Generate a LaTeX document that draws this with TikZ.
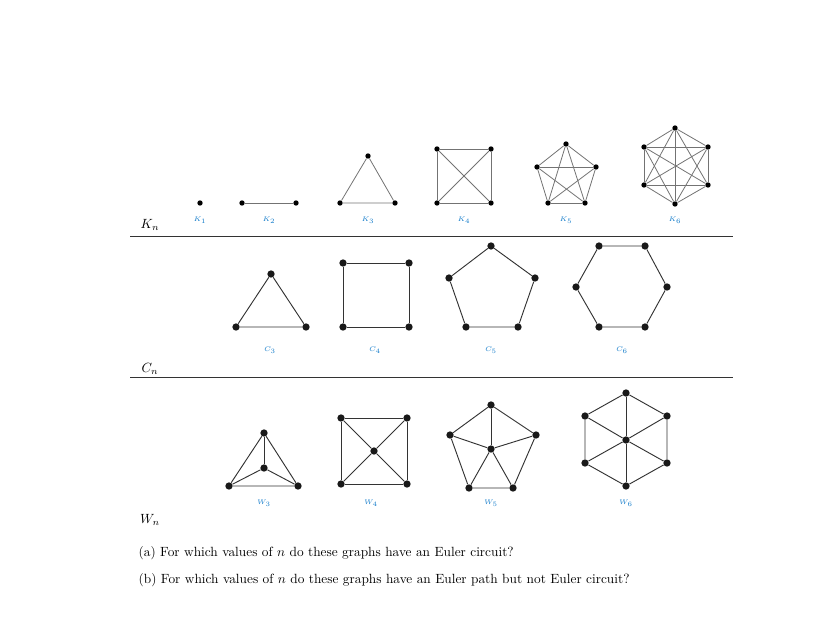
\documentclass[tikz,border=0pt]{standalone}
\begin{document}
\begin{tikzpicture}[x=0.75pt,y=-0.75pt,
  v/.style={circle,fill=black,inner sep=0pt,minimum size=4pt},
  vb/.style={circle,fill=black!90,inner sep=0pt,minimum size=5.5pt},
  kedge/.style={draw=black!55,line width=0.6pt},
  edge/.style={draw=black!80,line width=0.7pt},
  lab/.style={text=cyan!60!blue,font=\sffamily\itshape\tiny},
  rowlab/.style={font=\normalsize}]
\useasboundingbox (0,0) rectangle (827,627);
% K row
\node[v] (k1) at (200,203) {};
\node[lab] (lk1) at (200,220) {$K_1$};
\node[v] (k2a) at (242,203) {}; \node[v] (k2b) at (296,203) {};
\draw[kedge] (k2a)--(k2b);
\node[lab] (lk2) at (269,220) {$K_2$};
\node[v] (k3a) at (368,156) {}; \node[v] (k3b) at (340,203) {}; \node[v] (k3c) at (395,203) {};
\draw[kedge] (k3a)--(k3b)--(k3c)--(k3a);
\node[lab] (lk3) at (368,220) {$K_3$};
\node[v] (k4a) at (437,149) {}; \node[v] (k4b) at (491,149) {}; \node[v] (k4c) at (491,203) {}; \node[v] (k4d) at (437,203) {};
\foreach \a/\b in {k4a/k4b,k4a/k4c,k4a/k4d,k4b/k4c,k4b/k4d,k4c/k4d} \draw[kedge] (\a)--(\b);
\node[lab] (lk4) at (464,220) {$K_4$};
\node[v] (k51) at (566,144) {}; \node[v] (k52) at (596,167) {}; \node[v] (k53) at (585,203) {}; \node[v] (k54) at (548,203) {}; \node[v] (k55) at (537,167) {};
\foreach \a in {1,...,5}{\foreach \b in {1,...,5}{\ifnum\a<\b \draw[kedge] (k5\a)--(k5\b);\fi}}
\node[lab] (lk5) at (566,220) {$K_5$};
\node[v] (k61) at (675,128) {}; \node[v] (k62) at (708,147) {}; \node[v] (k63) at (708,185) {}; \node[v] (k64) at (675,204) {}; \node[v] (k65) at (644,185) {}; \node[v] (k66) at (644,147) {};
\foreach \a in {1,...,6}{\foreach \b in {1,...,6}{\ifnum\a<\b \draw[kedge] (k6\a)--(k6\b);\fi}}
\node[lab] (lk6) at (675,220) {$K_6$};
\node[rowlab] (kn) at (150,225) {$K_n$};
\coordinate (l1a) at (130,236); \coordinate (l1b) at (733,236);
\draw[black!80] (l1a)--(l1b);
% C row
\node[vb] (c31) at (271,274) {}; \node[vb] (c32) at (306,327) {}; \node[vb] (c33) at (236,327) {};
\draw[edge] (c31)--(c32)--(c33)--(c31);
\node[lab] (lc3) at (270,350) {$C_3$};
\node[vb] (c41) at (343,263) {}; \node[vb] (c42) at (409,263) {}; \node[vb] (c43) at (409,327) {}; \node[vb] (c44) at (343,327) {};
\draw[edge] (c41)--(c42)--(c43)--(c44)--(c41);
\node[lab] (lc4) at (375,350) {$C_4$};
\node[vb] (c51) at (491,246) {}; \node[vb] (c52) at (535,278) {}; \node[vb] (c53) at (518,327) {}; \node[vb] (c54) at (466,327) {}; \node[vb] (c55) at (449,278) {};
\draw[edge] (c51)--(c52)--(c53)--(c54)--(c55)--(c51);
\node[lab] (lc5) at (491,350) {$C_5$};
\node[vb] (c61) at (599,246) {}; \node[vb] (c62) at (645,246) {}; \node[vb] (c63) at (667,287) {}; \node[vb] (c64) at (645,327) {}; \node[vb] (c65) at (599,327) {}; \node[vb] (c66) at (576,287) {};
\draw[edge] (c61)--(c62)--(c63)--(c64)--(c65)--(c66)--(c61);
\node[lab] (lc6) at (622,350) {$C_6$};
\node[rowlab] (cn) at (150,369) {$C_n$};
\coordinate (l2a) at (130,377); \coordinate (l2b) at (733,377);
\draw[black!80] (l2a)--(l2b);
% W row
\node[vb] (w3t) at (264,433) {}; \node[vb] (w3c) at (264,468) {}; \node[vb] (w3r) at (298,486) {}; \node[vb] (w3l) at (229,486) {};
\draw[edge] (w3t)--(w3r)--(w3l)--(w3t);
\foreach \a in {w3t,w3r,w3l} \draw[edge] (w3c)--(\a);
\node[lab] (lw3) at (264,503) {$W_3$};
\node[vb] (w41) at (341,418) {}; \node[vb] (w42) at (407,418) {}; \node[vb] (w43) at (407,484) {}; \node[vb] (w44) at (341,484) {}; \node[vb] (w4c) at (374,451) {};
\draw[edge] (w41)--(w42)--(w43)--(w44)--(w41);
\foreach \a in {w41,w42,w43,w44} \draw[edge] (w4c)--(\a);
\node[lab] (lw4) at (371,503) {$W_4$};
\node[vb] (w51) at (491,405) {}; \node[vb] (w52) at (536,435) {}; \node[vb] (w53) at (513,488) {}; \node[vb] (w54) at (469,488) {}; \node[vb] (w55) at (450,435) {}; \node[vb] (w5c) at (491,449) {};
\draw[edge] (w51)--(w52)--(w53)--(w54)--(w55)--(w51);
\foreach \a in {w51,w52,w53,w54,w55} \draw[edge] (w5c)--(\a);
\node[lab] (lw5) at (491,503) {$W_5$};
\node[vb] (w61) at (626,393) {}; \node[vb] (w62) at (667,416) {}; \node[vb] (w63) at (667,463) {}; \node[vb] (w64) at (626,486) {}; \node[vb] (w65) at (585,463) {}; \node[vb] (w66) at (585,416) {}; \node[vb] (w6c) at (626,440) {};
\draw[edge] (w61)--(w62)--(w63)--(w64)--(w65)--(w66)--(w61);
\foreach \a in {w61,w62,w63,w64,w65,w66} \draw[edge] (w6c)--(\a);
\node[lab] (lw6) at (626,503) {$W_6$};
\node[rowlab] (wn) at (150,520) {$W_n$};
% questions
\node[anchor=west] (qa) at (134,553) {(a) For which values of $n$ do these graphs have an Euler circuit?};
\node[anchor=west] (qb) at (134,580) {(b) For which values of $n$ do these graphs have an Euler path but not Euler circuit?};
\end{tikzpicture}
\end{document}
